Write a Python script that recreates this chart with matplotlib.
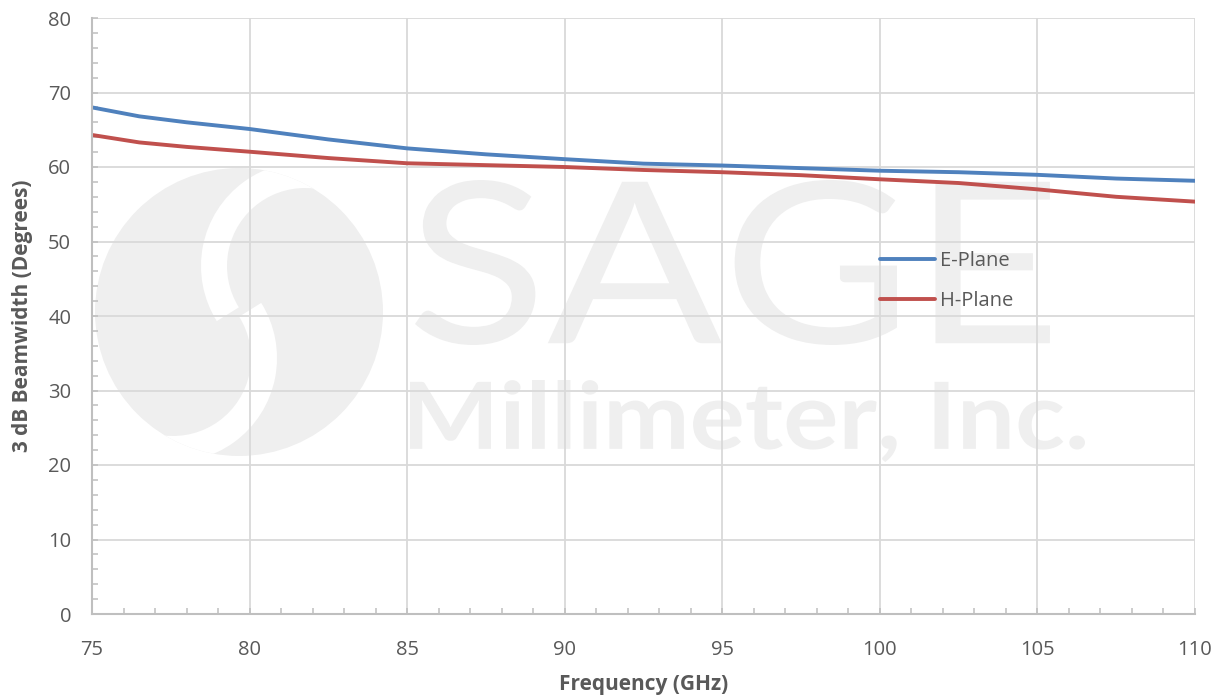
import matplotlib
matplotlib.use("Agg")
import matplotlib.pyplot as plt
from matplotlib.patches import Circle, Wedge, PathPatch
from matplotlib.textpath import TextPath
from matplotlib.font_manager import FontProperties
from matplotlib.ticker import MultipleLocator
from matplotlib.transforms import Affine2D

plt.rcParams['font.family'] = ['Open Sans', 'DejaVu Sans']

freq = [75, 76.5, 78, 80, 82.5, 85, 87.5, 90, 92.5, 95, 97.5, 100, 102.5, 105, 107.5, 110]
e_plane = [68.0, 66.8, 66.0, 65.1, 63.7, 62.5, 61.7, 61.05, 60.45, 60.2, 59.85, 59.5, 59.3, 58.95, 58.45, 58.15]
h_plane = [64.3, 63.3, 62.7, 62.05, 61.2, 60.5, 60.25, 60.0, 59.6, 59.3, 58.9, 58.35, 57.85, 57.0, 56.0, 55.35]

x_ticks = [75, 80, 85, 90, 95, 100, 105, 110]
y_ticks = [0, 10, 20, 30, 40, 50, 60, 70, 80]

wm_color = '#EFEFEF'
txt_color = '#595959'
grid_color = '#D9D9D9'
axis_color = '#BFBFBF'

fig = plt.figure(figsize=(12.22, 7.0), dpi=100)

# 배경 워터마크 (픽셀 좌표)
bg = fig.add_axes([0, 0, 1, 1], zorder=0)
bg.set_xlim(0, 1222)
bg.set_ylim(0, 700)
bg.axis('off')

outer = Circle((239, 388), 144, color=wm_color, lw=0)
bg.add_patch(outer)
w1 = Wedge((305, 434), 104, 40, 212, width=26, color='white', lw=0)
w2 = Wedge((173, 342), 104, 220, 392, width=26, color='white', lw=0)
for w in (w1, w2):
    bg.add_patch(w)
    w.set_clip_path(outer)


def fit_text(s, box, weight):
    fp = FontProperties(family='Lato', weight=weight)
    tp = TextPath((0, 0), s, size=100, prop=fp)
    ext = tp.get_extents()
    x0, y0, x1, y1 = box
    tr = Affine2D().translate(-ext.x0, -ext.y0).scale((x1 - x0) / ext.width, (y1 - y0) / ext.height).translate(x0, y0)
    bg.add_patch(PathPatch(tr.transform_path(tp), color=wm_color, lw=0))


fit_text("SAGE", (415, 700 - 345, 1050, 700 - 180), 'normal')
fit_text("Millimeter, Inc.", (410, 700 - 462, 1085, 700 - 380), 'bold')

# 메인 그래프
ax = fig.add_axes([92 / 1222, 1 - 614 / 700, 1103 / 1222, 596 / 700], zorder=1)
ax.patch.set_alpha(0)

ax.plot(freq, e_plane, color='#4F81BD', lw=2.8, label='E-Plane', solid_capstyle='round')
ax.plot(freq, h_plane, color='#C0504D', lw=2.8, label='H-Plane', solid_capstyle='round')

ax.set_xlim(75, 110)
ax.set_ylim(0, 80)
ax.set_xticks(x_ticks)
ax.set_yticks(y_ticks)
ax.xaxis.set_minor_locator(MultipleLocator(1))
ax.yaxis.set_minor_locator(MultipleLocator(2))
ax.grid(True, which='major', color=grid_color, lw=1.3)
ax.set_axisbelow(True)

for s in ['top', 'right']:
    ax.spines[s].set_visible(False)
for s in ['left', 'bottom']:
    ax.spines[s].set_color(axis_color)
    ax.spines[s].set_linewidth(1.5)

ax.tick_params(which='both', direction='in', color=axis_color, labelcolor=txt_color, labelsize=14.5)
ax.tick_params(which='major', length=4, width=1.1)
ax.tick_params(which='minor', length=4, width=1.1)
ax.tick_params(axis='x', which='major', pad=19)
ax.tick_params(axis='y', which='major', pad=15)

ax.set_xlabel("Frequency (GHz)", fontsize=15, fontweight='bold', color=txt_color, labelpad=10)
ax.set_ylabel("3 dB Beamwidth (Degrees)", fontsize=15, fontweight='bold', color=txt_color, labelpad=11)

ax.legend(loc='center left', bbox_to_anchor=(0.714, 0.559), frameon=False, fontsize=14.5,
          handlelength=2.75, handletextpad=0.25, labelspacing=1.0, borderpad=0, borderaxespad=0,
          labelcolor=txt_color)

plt.savefig("out.png", dpi=100)
